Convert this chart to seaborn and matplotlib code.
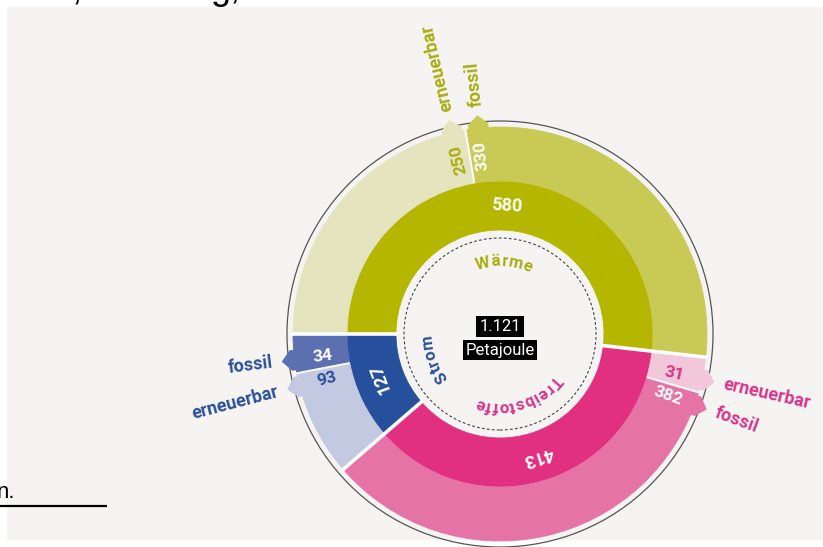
import numpy as np
import matplotlib
matplotlib.use("Agg")
import matplotlib.pyplot as plt
import seaborn as sns
from matplotlib import font_manager
from matplotlib.ft2font import FT2Font
from matplotlib.patches import Circle, Polygon, Rectangle

# data (Petajoule)
categories = ["Wärme", "Treibstoffe", "Strom"]
totals = [580, 413, 127]
renewable = [250, 31, 93]
fossil = [330, 382, 34]
part_names = ["erneuerbar", "fossil"]
total_label = "1.121"
unit_label = "Petajoule"

dark_colors = ["#b4b600", "#e0307f", "#27509c"]
fossil_colors = ["#c9c955", "#e673a6", "#5c70b1"]
renew_colors = ["#e4e4bf", "#f3c7da", "#c3c9e1"]
text_colors = ["#a9ad10", "#d9348a", "#2b4f99"]

W, H = 823, 547
cx, cy = 500, H - 334
r_hole, r_mid, r_out, r_line = 104, 153, 207, 213
label_offset = 3.7   # degrees from the erneuerbar/fossil split
start = 180

sns.set_theme(style="white")
plt.rcParams["font.family"] = ["Roboto", "DejaVu Sans"]

fig = plt.figure(figsize=(W / 100, H / 100), dpi=100, facecolor="white")
ax = fig.add_axes([0, 0, 1, 1])
ax.add_patch(Rectangle((7, H - 540), W - 7, 533, color="#f5f4f2", zorder=0, lw=0))


def polar(theta, r):
    t = np.radians(theta)
    return cx + r * np.cos(t), cy + r * np.sin(t)


# thin outline circle
ax.add_patch(Circle((cx, cy), r_line, fill=False, lw=0.9, ec="#555555", zorder=1))

# inner ring
inner, _ = ax.pie(totals, radius=r_mid, center=(cx, cy), startangle=start,
                  counterclock=False, colors=dark_colors,
                  wedgeprops=dict(width=r_mid - r_hole, linewidth=0.6))
# outer ring
outer_vals, outer_cols = [], []
for i in range(len(categories)):
    outer_vals += [renewable[i], fossil[i]]
    outer_cols += [renew_colors[i], fossil_colors[i]]
outer, _ = ax.pie(outer_vals, radius=r_out, center=(cx, cy), startangle=start,
                  counterclock=False, colors=outer_cols,
                  wedgeprops=dict(width=r_out - r_mid, linewidth=0.6))
for w in list(inner) + list(outer):
    w.set_edgecolor(w.get_facecolor())
    w.set_zorder(2)

total = sum(totals)
bounds = start - np.concatenate([[0], np.cumsum(totals)]) * 360 / total
splits = bounds[:-1] - np.array(renewable) * 360 / total

# white separators
for b in bounds[:-1]:
    x0, y0 = polar(b, r_hole - 2)
    x1, y1 = polar(b, r_out + 2)
    ax.plot([x0, x1], [y0, y1], color="white", lw=2.6, zorder=3, solid_capstyle="butt")
for s in splits:
    x0, y0 = polar(s, r_mid)
    x1, y1 = polar(s, r_out + 2)
    ax.plot([x0, x1], [y0, y1], color="white", lw=1.4, zorder=3, solid_capstyle="butt")

# dashed circle and center label
ax.add_patch(Circle((cx, cy), 96, fill=False, lw=0.8, ec="#444444",
                    ls=(0, (2.5, 2)), zorder=3))
ax.text(cx, cy + 7.5, total_label, ha="center", va="center", color="white",
        fontsize=12, zorder=5,
        bbox=dict(boxstyle="square,pad=0.2", fc="black", ec="none"))
ax.text(cx, cy - 16, unit_label, ha="center", va="center", color="white",
        fontsize=12, zorder=5,
        bbox=dict(boxstyle="square,pad=0.17", fc="black", ec="none"))

bold_path = font_manager.findfont(font_manager.FontProperties(family="Roboto", weight="bold"))


def arc_text(text, theta_mid, r, color, size=12, spacing=0.3):
    # glyph advances straight from the font file, in pixels at dpi 100
    ft = FT2Font(bold_path)
    ft.set_size(size, 100)
    centers, pen = [], 0.0
    for ch in text:
        g = ft.load_char(ord(ch))
        centers.append(pen + g.horiBearingX / 64 + g.width / 128)
        pen += g.linearHoriAdvance / 65536 + spacing
    tot = pen - spacing
    for ch, c in zip(text, centers):
        th = theta_mid - np.degrees((c - tot / 2) / r)
        x, y = polar(th, r)
        ax.text(x, y, ch, fontsize=size, weight="bold", color=color,
                rotation=th - 90, rotation_mode="anchor",
                ha="center", va="baseline", zorder=5)


def radial_rot(theta):
    if np.cos(np.radians(theta)) < -0.5:
        return theta - 180, True
    return theta, False


for i, cat in enumerate(categories):
    mid = (bounds[i] + bounds[i + 1]) / 2
    # category name on the dashed circle
    arc_text(cat, mid, 68, text_colors[i])
    # inner value
    x, y = polar(mid, 128)
    ax.text(x, y, str(totals[i]), fontsize=13, weight="bold", color="white",
            rotation=mid - 90, rotation_mode="anchor",
            ha="center", va="center", zorder=5)
    # outer parts
    parts = [(renewable[i], splits[i] + label_offset, renew_colors[i], text_colors[i]),
             (fossil[i], splits[i] - label_offset, fossil_colors[i], "white")]
    for name, (val, th, fc, tc) in zip(part_names, parts):
        hw = 2.8
        pts = [polar(th - hw, r_out - 3), polar(th - hw, r_out + 4),
               polar(th, r_out + 13), polar(th + hw, r_out + 4),
               polar(th + hw, r_out - 3)]
        ax.add_patch(Polygon(pts, closed=True, fc=fc, ec="none", zorder=2))
        rot, flip = radial_rot(th)
        x, y = polar(th, 179)
        ax.text(x, y, str(val), fontsize=12.5, weight="bold", color=tc,
                rotation=rot, rotation_mode="anchor",
                ha="center", va="center", zorder=5)
        x, y = polar(th, 229)
        ax.text(x, y, name, fontsize=13, weight="bold", color=text_colors[i],
                rotation=rot, rotation_mode="anchor",
                ha="right" if flip else "left", va="center", zorder=5)

# bits of the surrounding page text
page_font = ["Liberation Sans", "DejaVu Sans"]
ax.text(72, H + 1, ",", fontsize=26, family=page_font, va="baseline", color="black")
ax.text(211, H + 1, "g,", fontsize=26, family=page_font, va="baseline", color="black")
ax.text(15, H - 498, "n.", fontsize=16, family=page_font, ha="right",
        va="baseline", color="black")
ax.plot([0, 107], [H - 506, H - 506], color="black", lw=1.6, solid_capstyle="butt")

ax.set_xlim(0, W)
ax.set_ylim(0, H)
ax.set_aspect("equal")
ax.axis("off")
fig.savefig("out.png", dpi=100, facecolor="white")
